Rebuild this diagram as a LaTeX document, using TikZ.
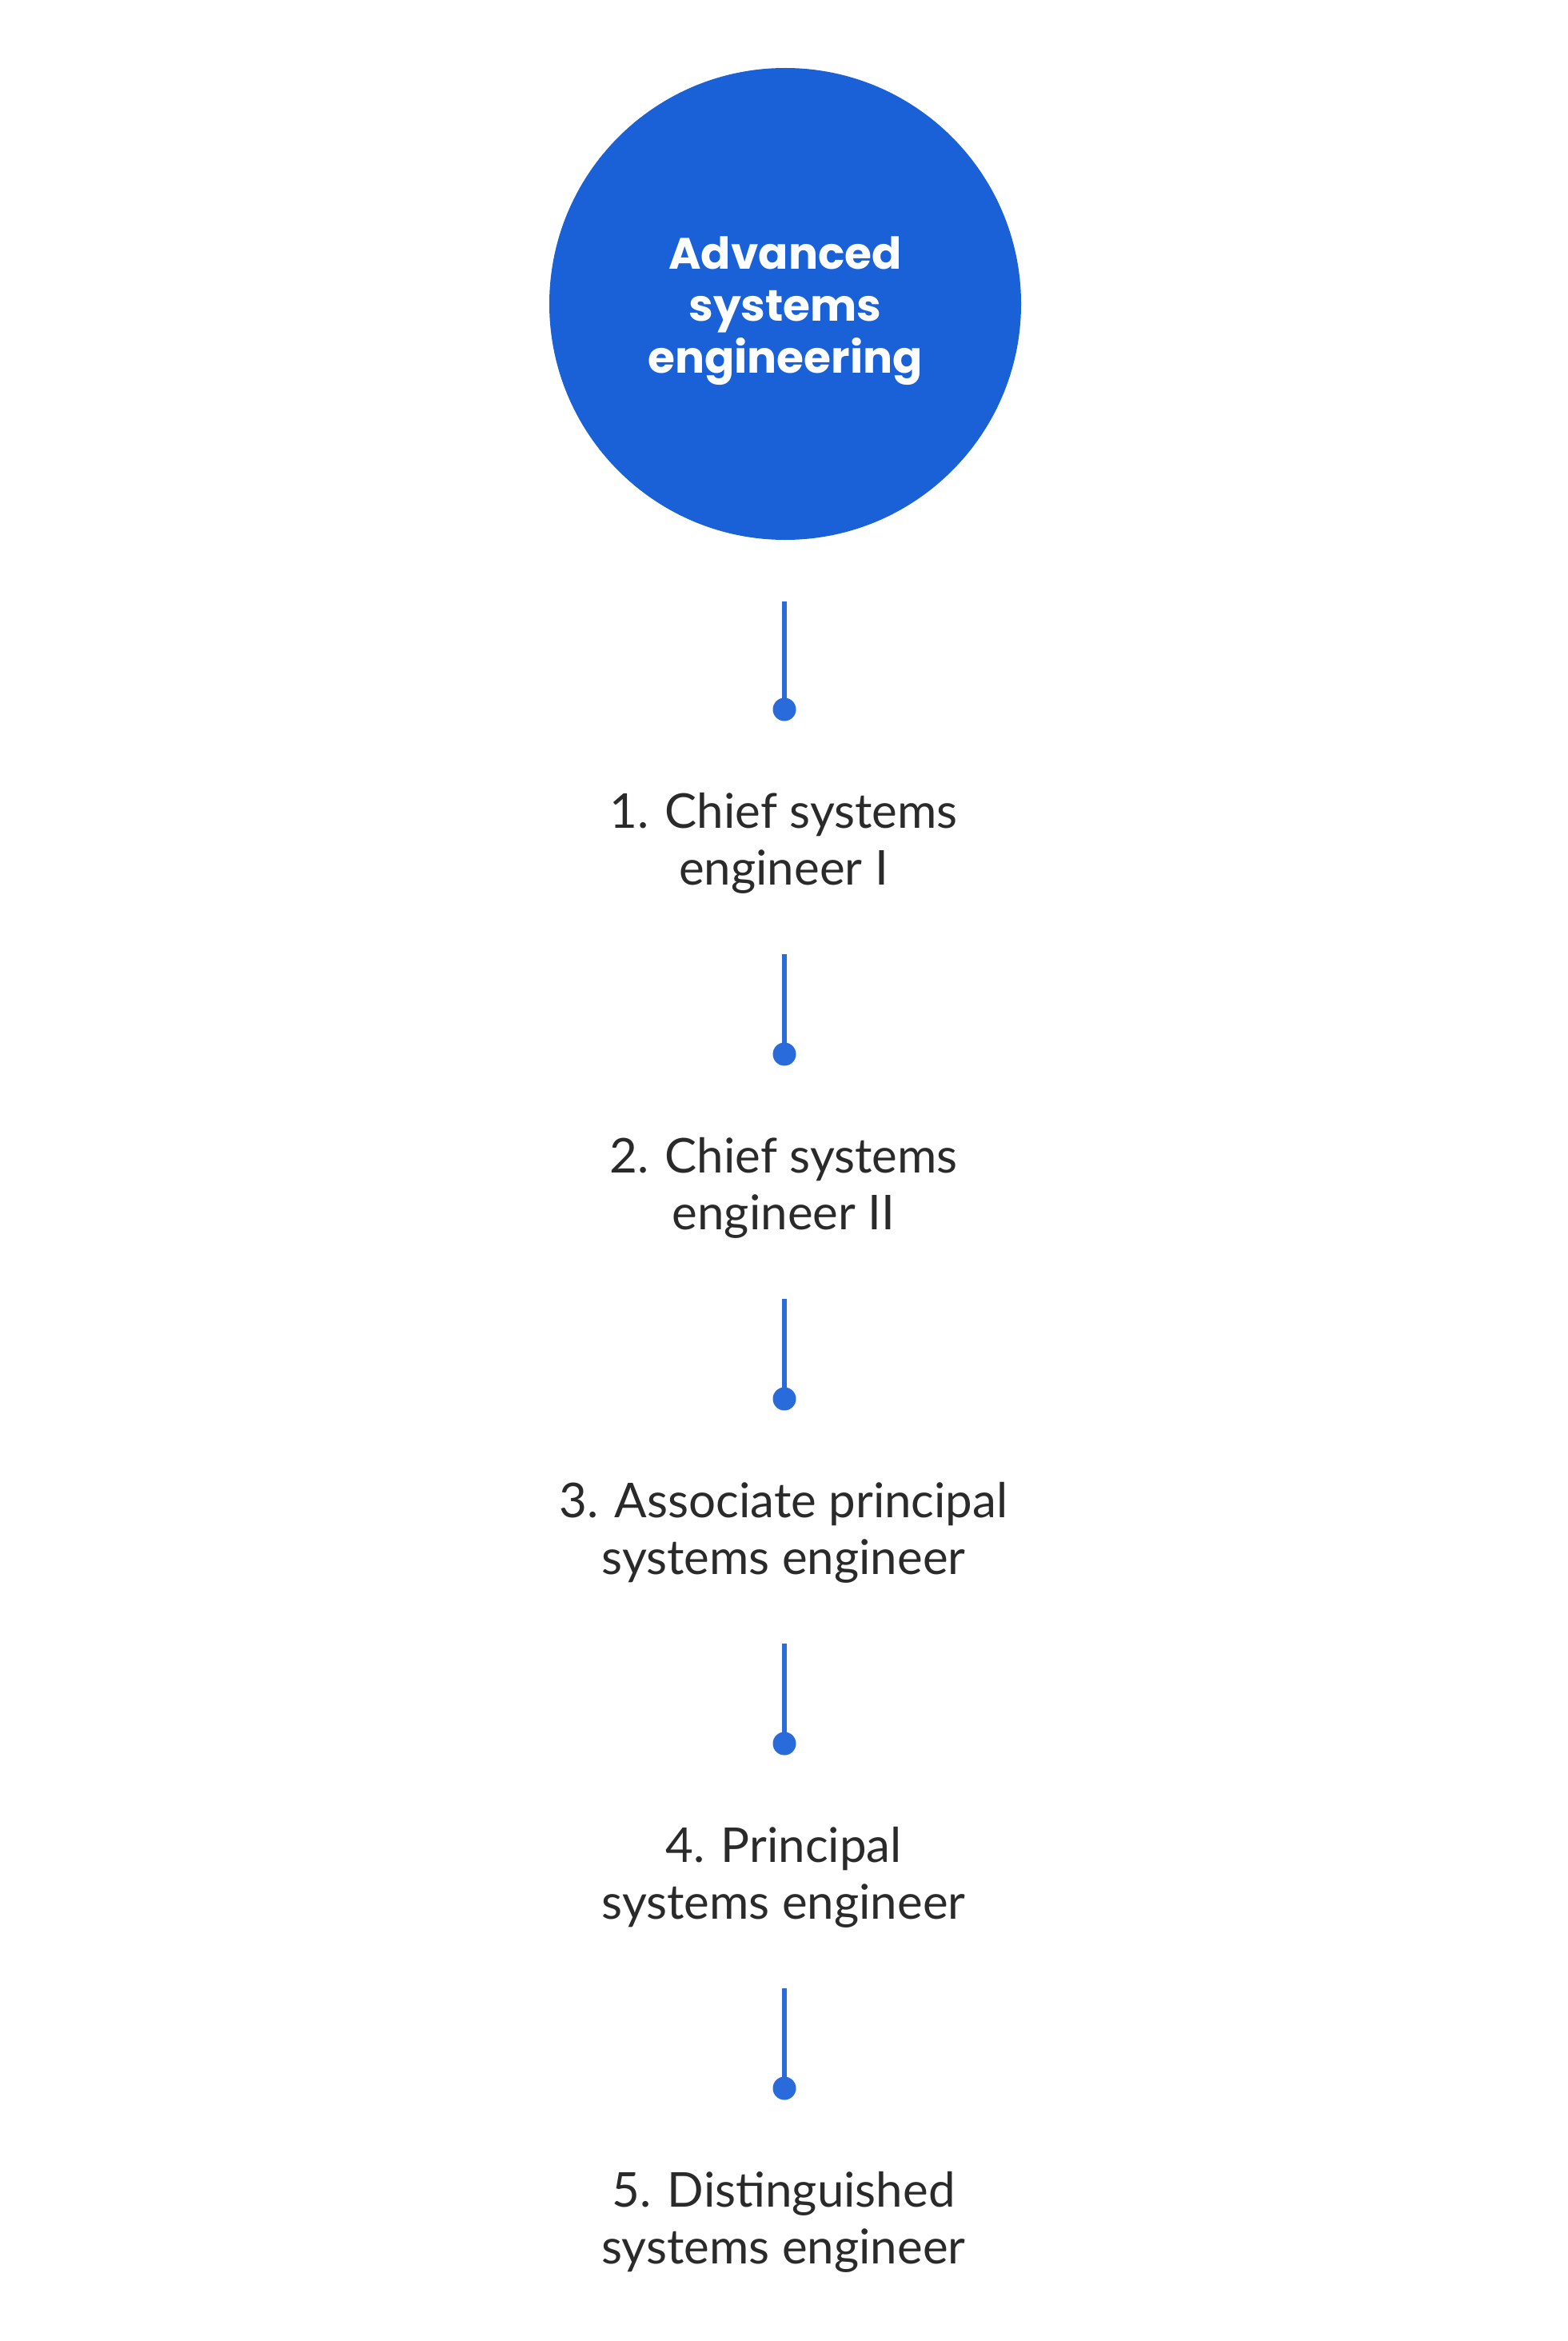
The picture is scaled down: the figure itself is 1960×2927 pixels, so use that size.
\documentclass[tikz,border=0pt]{standalone}
\usepackage{fontspec}
\setmainfont{Lato}
\newfontfamily\titlefont{Poppins}
\definecolor{circblue}{HTML}{1A61D8}
\definecolor{lineblue}{HTML}{2A6BDC}
\definecolor{txt}{HTML}{2A2A2A}
\begin{document}
\begin{tikzpicture}[x=1pt,y=-1pt,
  conn/.style={draw=lineblue,line width=5.3pt},
  dotnode/.style={circle,fill=lineblue,inner sep=0pt,minimum size=29pt},
  lbl/.style={align=center,text=txt,font=\fontsize{60}{71}\selectfont,inner sep=0pt},
  hub/.style={circle,fill=circblue,inner sep=0pt,minimum size=590pt}]
\useasboundingbox[fill=white] (0,0) rectangle (1960,2927);
\node[hub] (hub) at (982,380) {};
\node[text=white,align=center,inner sep=0pt,font=\titlefont\bfseries\fontsize{55}{65}\selectfont] (title) at (hub.center) [yshift=-9pt] {Advanced\\systems\\engineering};
\foreach \i/\t/\ty [count=\k from 0] in {1/{1. Chief systems\\engineer I}/752,2/{2. Chief systems\\engineer II}/1193,3/{3. Associate principal\\systems engineer}/1624,4/{4. Principal\\systems engineer}/2055,5/{5. Distinguished\\systems engineer}/2486}{
  \coordinate (top\i) at (981,\ty);
  \node[dotnode] (dot\i) at (981,887+431*\k) {};
  \node[lbl] (t\i) at (980,1054+431*\k) {\t};
  \draw[conn] (top\i) -- (dot\i.center);
}
\end{tikzpicture}
\end{document}
